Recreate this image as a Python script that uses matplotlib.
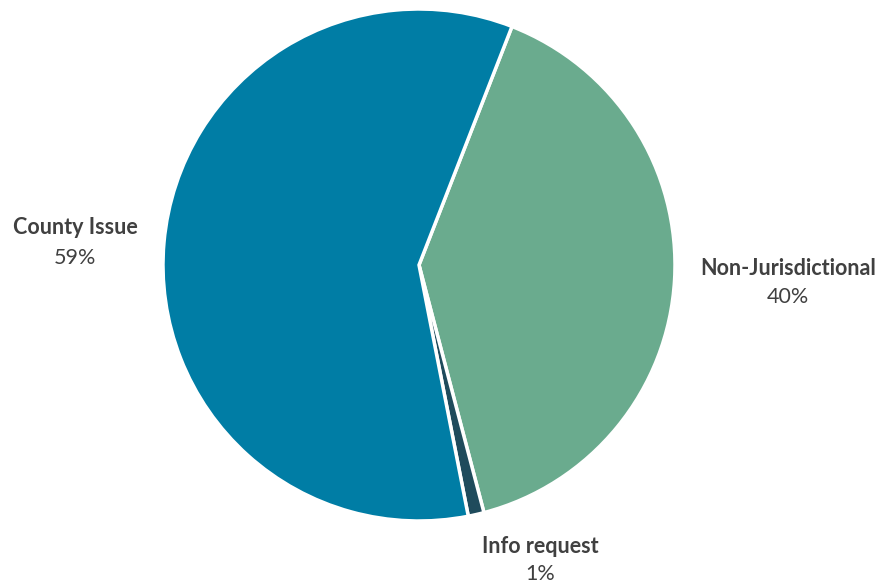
import matplotlib.pyplot as plt

# slice data (clockwise from the top-right boundary)
categories = ["Non-Jurisdictional", "Info request", "County Issue"]
shares = [40, 1, 59]
colors = ["#6AAB8E", "#1F4B5C", "#007DA5"]

# label placement in axes data units (pie radius = 1)
label_pos = {
    "County Issue": (-1.344, 0.145, 0.027),
    "Non-Jurisdictional": (1.441, -0.012, -0.125),
    "Info request": (0.473, -1.098, -1.207),
}

fig = plt.figure(figsize=(8.81, 5.83), dpi=100)
W, H = 881, 583
cx, cy, r = 419, 265, 256
ax = fig.add_axes([(cx - r) / W, (H - cy - r) / H, 2 * r / W, 2 * r / H])

ax.pie(shares, colors=colors, startangle=68.7, counterclock=False, radius=1,
       wedgeprops=dict(edgecolor="white", linewidth=2.5))
ax.set_xlim(-1, 1)
ax.set_ylim(-1, 1)
ax.set_aspect("equal")
ax.axis("off")

plt.rcParams['font.family'] = ['Lato', 'DejaVu Sans']
tc = "#404040"
for name, val in zip(categories, shares):
    x, y1, y2 = label_pos[name]
    ax.text(x, y1, name, ha="center", va="center", fontsize=15.5, fontweight="bold",
            color=tc, clip_on=False)
    ax.text(x, y2, f"{val}%", ha="center", va="center", fontsize=15.5, color=tc,
            clip_on=False)

fig.savefig("out.png", dpi=100)
